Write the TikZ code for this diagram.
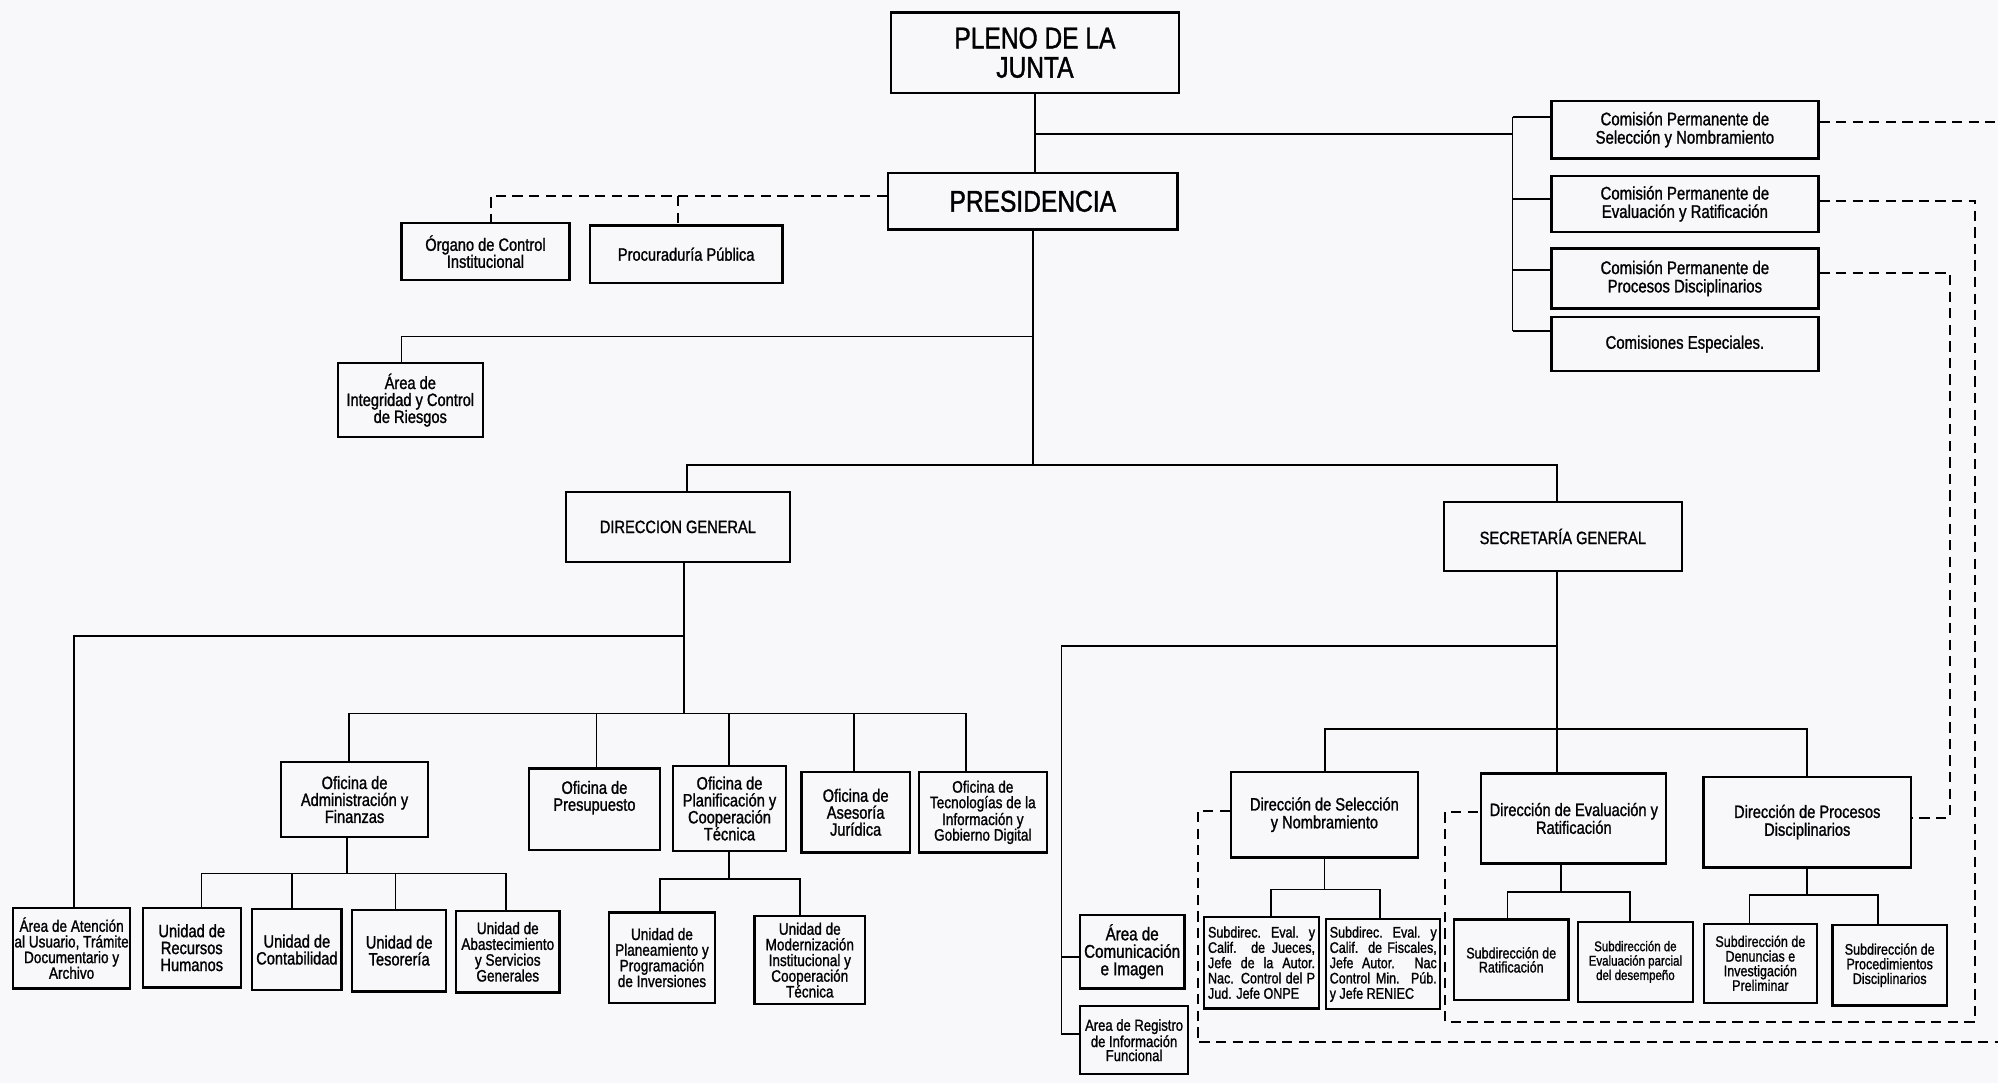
\documentclass[tikz,border=0pt]{standalone}
\usepackage{fontspec}
\setmainfont{Liberation Sans}[FakeStretch=0.82,FakeBold=1.2]
\usetikzlibrary{calc}

\definecolor{paper}{RGB}{248,248,250}
\newcommand\fs[2]{\fontsize{#1}{#2}\selectfont}

% \bx[options]{name}{x1}{y1}{x2}{y2}{text}: a framed box between two corners
\newcommand\bx[7][]{%
  \pgfmathsetmacro\bxw{#5-#3}\pgfmathsetmacro\bxh{#6-#4}%
  \pgfmathsetmacro\bxcx{(#3+#5)/2}\pgfmathsetmacro\bxcy{(#4+#6)/2}%
  \node[box,minimum width=\bxw pt,minimum height=\bxh pt,#1] (#2) at (\bxcx,\bxcy) {#7};}

\tikzset{
  box/.style={draw=black,line width=1.8pt,inner sep=1pt,align=center,text=black,font=\fs{14}{13.3}},
  ln/.style={draw=black,line width=1.3pt},
  dsh/.style={draw=black,line width=1.5pt,dash pattern=on 8pt off 5pt},
  jst/.style={align=justify,text width=84pt,font={\fs{12}{12}\tolerance=10000\hyphenpenalty=10000}}
}

\begin{document}
\begin{tikzpicture}[x=1pt,y=-1pt]
\fill[paper] (0,0) rectangle (1568,850);
\useasboundingbox (0,0) rectangle (1568,850);

% ---- top level
\bx[font=\fs{23.5}{23}]{pleno}{699.4}{9.7}{925}{73}{PLENO DE LA\\JUNTA}
\bx[font=\fs{23.5}{23}]{pres}{697}{136}{924}{180}{PRESIDENCIA}

% ---- commissions
\bx[font=\fs{14.3}{14.4}]{cs1}{1217.5}{79}{1427}{124.5}{Comisión Permanente de\\Selección y Nombramiento}
\bx[font=\fs{14.3}{14.4}]{cs2}{1217.5}{138}{1427}{182}{Comisión Permanente de\\Evaluación y Ratificación}
\bx[font=\fs{14.3}{14.4}]{cs3}{1217.5}{195}{1427}{242}{Comisión Permanente de\\Procesos Disciplinarios}
\bx[font=\fs{14.3}{14.4}]{cs4}{1217.5}{249}{1427}{291}{Comisiones Especiales.}

% ---- bodies attached to the presidency
\bx{org}{315}{175}{447}{220}{Órgano de Control\\Institucional}
\bx{proc}{463}{177}{614}{222}{Procuraduría Pública}
\bx{integ}{265}{285}{379}{343}{Área de\\Integridad y Control\\de Riesgos}

% ---- general direction and secretariat
\bx{dg}{444}{386}{620}{441}{DIRECCION GENERAL}
\bx{sg}{1133}{394}{1320}{448}{SECRETARÍA GENERAL}

% ---- offices under the general direction
\bx{adm}{220.5}{598}{336}{657}{Oficina de\\Administración y\\Finanzas}
\bx{pre}{415}{603}{518}{667}{}
\node[align=center,font=\fs{14}{13.3},inner sep=0pt] (pretxt) at ([yshift=9pt]pre.center) {Oficina de\\Presupuesto};
\bx{plan}{528}{601}{617}{668}{Oficina de\\Planificación y\\Cooperación\\Técnica}
\bx{ase}{629}{606}{714}{669}{Oficina de\\Asesoría\\Jurídica}
\bx[font=\fs{13}{12.2}]{tec}{721}{606}{821.6}{669}{Oficina de\\Tecnologías de la\\Información y\\Gobierno Digital}

\bx[font=\fs{13}{12.3}]{aten}{10.4}{712.5}{102}{775.7}{Área de Atención\\al Usuario, Trámite\\Documentario y\\Archivo}
\bx{rrhh}{112}{712.5}{189}{775}{Unidad de\\Recursos\\Humanos}
\bx{cont}{198}{713.5}{268}{777}{Unidad de\\Contabilidad}
\bx{teso}{276.5}{714}{350}{778}{Unidad de\\Tesorería}
\bx[font=\fs{13}{12.4}]{abas}{358}{715}{439}{779}{Unidad de\\Abastecimiento\\y Servicios\\Generales}
\bx[font=\fs{13}{12.3}]{plane}{478}{716}{561}{787}{Unidad de\\Planeamiento y\\Programación\\de Inversiones}
\bx[font=\fs{13}{12.3}]{mode}{592}{719}{679}{788}{Unidad de\\Modernización\\Institucional y\\Cooperación\\Técnica}

% ---- units under the secretariat
\bx[font=\fs{14.5}{13.7}]{comu}{847.5}{718}{929.5}{775.7}{Área de\\Comunicación\\e Imagen}
\bx[font=\fs{12.5}{11}]{regi}{847.5}{789.7}{932.5}{843}{Area de Registro\\de Información\\Funcional}

\bx[font=\fs{14}{14}]{dsel}{966}{605.7}{1112.7}{673}{Dirección de Selección\\y Nombramiento}
\bx[font=\fs{14}{14}]{deva}{1162.5}{607}{1307.7}{677.6}{Dirección de Evaluación y\\Ratificación}
\bx[font=\fs{14}{14}]{dpro}{1336.8}{609.6}{1499.8}{680.8}{Dirección de Procesos\\Disciplinarios}

\bx[jst]{sjue}{944.8}{719.5}{1035.3}{791.5}{Subdirec. Eval. y\linebreak Calif. de Jueces,\linebreak Jefe de la Autor.\linebreak Nac. Control del P\linebreak Jud. Jefe ONPE}
\bx[jst]{sfis}{1040.8}{721.4}{1130.3}{792}{Subdirec. Eval. y\linebreak Calif. de Fiscales,\linebreak Jefe Autor. Nac\linebreak Control Min. Púb.\linebreak y Jefe RENIEC}
\bx[font=\fs{12}{11}]{srat}{1141}{721.6}{1231}{785}{Subdirección de\\Ratificación}
\bx[font=\fs{11}{11.3}]{seva}{1238.4}{723.4}{1328.5}{786.3}{Subdirección de\\Evaluación parcial\\del desempeño}
\bx[font=\fs{12}{11.5}]{sden}{1337}{725}{1426}{787}{Subdirección de\\Denuncias e\\Investigación\\Preliminar}
\bx[font=\fs{12}{11.5}]{sprc}{1438}{726}{1528}{789}{Subdirección de\\Procedimientos\\Disciplinarios}

% ================= connectors
% plenary -> presidency and commissions bracket
\coordinate (cb) at (1187,105);
\draw[ln] (pleno.south) -- (pleno.south |- pres.north);
\draw[ln] (pleno.south |- cb) -- (cb);
\coordinate (t1) at ([yshift=10pt]cs1.west);
\coordinate (t2) at ([yshift=4pt]cs2.west);
\coordinate (t3) at ([yshift=6.5pt]cs3.west);
\coordinate (t4) at ([yshift=10pt]cs4.west);
\draw[ln] (t1 -| cb) -- (t4 -| cb);
\foreach \t in {t1,t2,t3,t4} \draw[ln] (\t -| cb) -- (\t);

% presidency -> advisory bodies (dashed)
\coordinate (oj) at (385,154);
\coordinate (pj) at (532,154);
\draw[dsh] ([yshift=4pt]pres.west) -- (oj) -- (oj |- org.north);
\draw[dsh] (pj) -- (pj |- proc.north);

% presidency -> integrity area, general direction, secretariat
\coordinate (ij) at (315,264);
\coordinate (dgj) at (539,365);
\coordinate (sgj) at (1222,365);
\draw[ln] (pres.south) -- (pres.south |- sgj);
\draw[ln] (pres.south |- ij) -- (ij) -- (ij |- integ.north);
\draw[ln] (dgj |- dg.north) -- (dgj) -- (sgj) -- (sgj |- sg.north);

% general direction -> offices
\coordinate (dgb) at (537,499);
\coordinate (aj) at (58,499);
\coordinate (r3) at (537,560);
\coordinate (r3a) at (274,560);
\coordinate (r3b) at (468,560);
\coordinate (r3c) at (572,560);
\coordinate (r3d) at (670,560);
\coordinate (r3e) at (758,560);
\draw[ln] (dgb |- dg.south) -- (r3);
\draw[ln] (dgb) -- (aj) -- (aj |- aten.north);
\draw[ln] (r3a |- adm.north) -- (r3a) -- (r3e) -- (r3e |- tec.north);
\draw[ln] (r3b) -- (r3b |- pre.north);
\draw[ln] (r3c) -- (r3c |- plan.north);
\draw[ln] (r3d) -- (r3d |- ase.north);

% administration -> units
\coordinate (uj) at (272.5,685.5);
\coordinate (ua) at (158,685.5);
\coordinate (ub) at (229,685.5);
\coordinate (uc) at (310.5,685.5);
\coordinate (ud) at (397,685.5);
\draw[ln] (uj |- adm.south) -- (uj);
\draw[ln] (ua |- rrhh.north) -- (ua) -- (ud) -- (ud |- abas.north);
\draw[ln] (ub) -- (ub |- cont.north);
\draw[ln] (uc) -- (uc |- teso.north);

% planning -> units
\coordinate (qj) at (572,690);
\coordinate (qa) at (518,690);
\coordinate (qb) at (628,690);
\draw[ln] (qj |- plan.south) -- (qj);
\draw[ln] (qa |- plane.north) -- (qa) -- (qb) -- (qb |- mode.north);

% secretariat -> areas and directions
\coordinate (sgb) at (1222,507);
\coordinate (cj) at (833,507);
\coordinate (dj) at (1222,572);
\coordinate (da) at (1040,572);
\coordinate (dc) at (1418,572);
\coordinate (k1) at ([yshift=-4pt]comu.west);
\coordinate (k2) at ([yshift=5pt]regi.west);
\draw[ln] (sgb |- sg.south) -- (dj);
\draw[ln] (sgb) -- (cj) -- (k2 -| cj) -- (k2);
\draw[ln] (k1 -| cj) -- (k1);
\draw[ln] (da |- dsel.north) -- (da) -- (dc) -- (dc |- dpro.north);
\draw[ln] (dj) -- (dj |- deva.north);

% directions -> sub-directions
\coordinate (sj) at (1039.5,698);
\coordinate (sa) at (997.6,698);
\coordinate (sb) at (1083,698);
\draw[ln] (sj |- dsel.south) -- (sj);
\draw[ln] (sa |- sjue.north) -- (sa) -- (sb) -- (sb |- sfis.north);
\coordinate (ej) at (1225,700);
\coordinate (ea) at (1183,700);
\coordinate (eb) at (1279,700);
\draw[ln] (ej |- deva.south) -- (ej);
\draw[ln] (ea |- srat.north) -- (ea) -- (eb) -- (eb |- seva.north);
\coordinate (pj2) at (1418,702.5);
\coordinate (pa2) at (1373,702.5);
\coordinate (pb2) at (1474,702.5);
\draw[ln] (pj2 |- dpro.south) -- (pj2);
\draw[ln] (pa2 |- sden.north) -- (pa2) -- (pb2) -- (pb2 |- sprc.north);

% commissions -> directions (dashed)
\coordinate (R) at (1568,0);
\coordinate (e1) at ([yshift=6pt]cs1.east);
\draw[dsh] (e1) -- (e1 -| R);
\coordinate (e2) at ([yshift=2.5pt]cs2.east);
\coordinate (v2a) at (1550,802);
\coordinate (v2b) at (1134,802);
\coordinate (l2) at ([yshift=5pt]deva.west);
\draw[dsh] (e2) -- (e2 -| v2a) -- (v2a) -- (v2b) -- (v2b |- l2) -- (l2);
\coordinate (e3) at ([yshift=4.5pt]cs3.east);
\coordinate (v3) at (1530,642);
\coordinate (l3) at ([yshift=3pt]dpro.east);
\draw[dsh] (e3) -- (e3 -| v3) -- (v3 |- l3) -- (l3);
\coordinate (l4) at ([yshift=3pt]dsel.west);
\coordinate (v4) at (940,818);
\draw[dsh] (l4) -- (l4 -| v4) -- (v4) -- (v4 -| R);
\end{tikzpicture}
\end{document}
